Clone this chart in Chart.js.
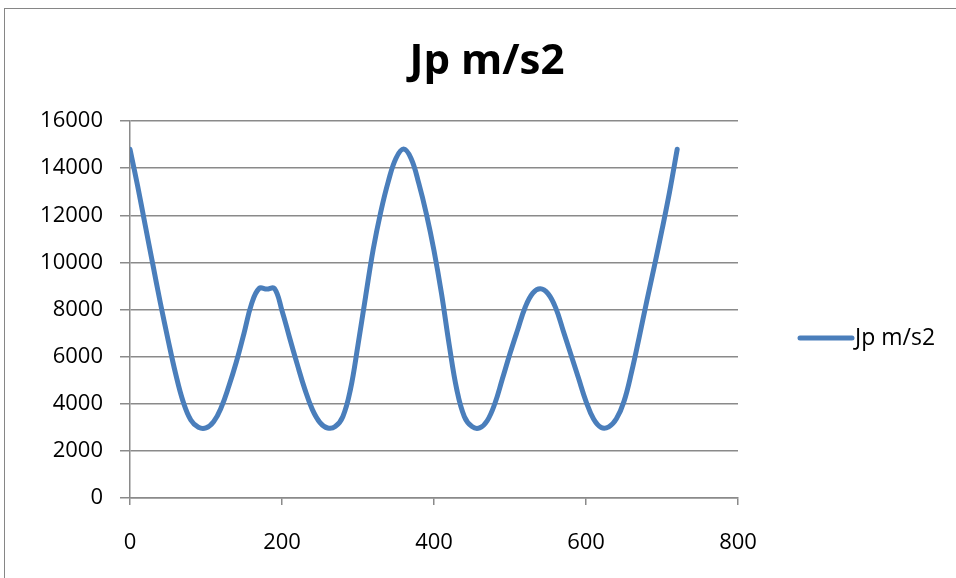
<!DOCTYPE html>
<html>
<head>
<meta charset="utf-8">
<title>Jp m/s2</title>
<script src="https://cdn.jsdelivr.net/npm/chart.js@4.4.1/dist/chart.umd.min.js"></script>
<style>
    html, body { margin: 0; padding: 0; background: #fff; overflow: hidden; }
    #frame {
        position: absolute; left: 4px; top: 8px;
        width: 1100px; height: 800px;
        border: 1px solid #868686;
    }
    #chart { position: absolute; left: 0; top: 0; }
</style>
</head>
<body>
<div id="frame"></div>
<canvas id="chart" width="956" height="578"></canvas>
<script>
    // crank angle (deg) and acceleration Jp (m/s2)
    const angles = [
        0, 10, 20, 30, 40, 50, 60, 70, 80, 90,
        100, 110, 120, 130, 140, 150, 160, 170, 180, 190,
        200, 210, 220, 230, 240, 250, 260, 270, 280, 290,
        300, 310, 320, 330, 340, 350, 360, 370, 380, 390,
        400, 410, 420, 430, 440, 450, 460, 470, 480, 490,
        500, 510, 520, 530, 540, 550, 560, 570, 580, 590,
        600, 610, 620, 630, 640, 650, 660, 670, 680, 690,
        700, 710, 720
    ];
    const jp = [
        14800, 13250, 11580, 9920, 8270, 6730, 5280, 4080, 3310, 3000,
        2973, 3233, 3838, 4740, 5780, 6990, 8243, 8895, 8865, 8895,
        7950, 6800, 5680, 4620, 3750, 3200, 2970, 3030, 3450, 4600,
        6500, 8550, 10550, 12150, 13450, 14420, 14810, 14400, 13350, 12050,
        10500, 8650, 6500, 4600, 3450, 3030, 2975, 3280, 4000, 5060,
        6130, 7130, 8097, 8697, 8884, 8674, 8080, 7100, 6100, 5100,
        4100, 3350, 2992, 3020, 3360, 4100, 5350, 6825, 8360, 9850,
        11380, 13000, 14800
    ];
    const xTicks = { min: 0, max: 800, step: 200 };
    const yTicks = { min: 0, max: 16000, step: 2000 };
    const seriesName = 'Jp m/s2';
    const lineColor = '#4a7ebb';
    const gridColor = '#8a8a8a';
    const fontFamily = "'Open Sans', 'Liberation Sans', sans-serif";

    const points = angles.map((a, i) => ({ x: a, y: jp[i] }));

    // legend on the right: a short thick line followed by the series name
    const sideLegend = {
        id: 'sideLegend',
        afterDraw(chart) {
            const ctx = chart.ctx;
            const y = 338;
            ctx.save();
            ctx.strokeStyle = lineColor;
            ctx.lineWidth = 5;
            ctx.lineCap = 'round';
            ctx.beginPath();
            ctx.moveTo(800, y);
            ctx.lineTo(852, y);
            ctx.stroke();
            ctx.fillStyle = '#000';
            ctx.font = '23px ' + fontFamily;
            ctx.textBaseline = 'middle';
            ctx.textAlign = 'left';
            ctx.fillText(seriesName, 855, y);
            ctx.restore();
        }
    };

    const plainNumber = (value) => String(value);

    const ctx = document.getElementById('chart').getContext('2d');
    new Chart(ctx, {
        type: 'line',
        data: {
            datasets: [{
                label: seriesName,
                data: points,
                borderColor: lineColor,
                backgroundColor: lineColor,
                borderWidth: 5,
                borderCapStyle: 'round',
                borderJoinStyle: 'round',
                pointRadius: 0,
                tension: 0.4,
                fill: false
            }]
        },
        options: {
            responsive: false,
            animation: false,
            devicePixelRatio: 1,
            layout: { padding: { left: 18, right: 0, top: 0, bottom: 0 } },
            plugins: {
                legend: { display: false },
                tooltip: { enabled: false },
                title: {
                    display: true,
                    text: seriesName,
                    color: '#000',
                    font: { family: fontFamily, size: 42, weight: 'bold', lineHeight: 1.2 },
                    padding: { top: 37, bottom: 33.6 }
                }
            },
            scales: {
                x: {
                    type: 'linear',
                    min: xTicks.min,
                    max: xTicks.max,
                    ticks: {
                        stepSize: xTicks.step,
                        color: '#000',
                        padding: 25,
                        font: { family: fontFamily, size: 22 },
                        callback: plainNumber
                    },
                    grid: {
                        drawOnChartArea: false,
                        drawTicks: true,
                        tickLength: 7,
                        color: gridColor,
                        lineWidth: 1.5
                    },
                    border: { display: true, color: gridColor, width: 1.5 },
                    afterFit(scale) { scale.height = 80; }
                },
                y: {
                    min: yTicks.min,
                    max: yTicks.max,
                    ticks: {
                        stepSize: yTicks.step,
                        color: '#000',
                        padding: 17,
                        font: { family: fontFamily, size: 22 },
                        callback: plainNumber
                    },
                    grid: {
                        drawTicks: true,
                        tickLength: 10,
                        color: gridColor,
                        lineWidth: 1.5
                    },
                    border: { display: true, color: gridColor, width: 1.5 },
                    afterFit(scale) { scale.width = 112; }
                },
                // empty axis on the right that keeps room for the legend
                side: {
                    type: 'linear',
                    position: 'right',
                    display: true,
                    ticks: { display: false },
                    grid: { display: false, drawTicks: false },
                    border: { display: false },
                    afterFit(scale) { scale.width = 218; }
                }
            }
        },
        plugins: [sideLegend]
    });
</script>
</body>
</html>
